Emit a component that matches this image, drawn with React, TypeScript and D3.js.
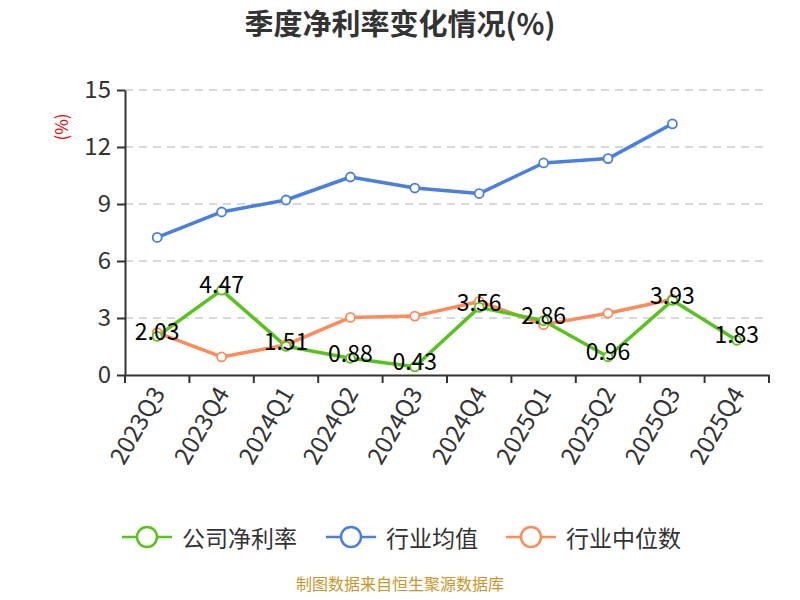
import React, { useEffect, useRef } from "react";
import * as d3 from "d3";

const quarters = ["2023Q3", "2023Q4", "2024Q1", "2024Q2", "2024Q3", "2024Q4", "2025Q1", "2025Q2", "2025Q3", "2025Q4"];
const companyRate = [2.03, 4.47, 1.51, 0.88, 0.43, 3.56, 2.86, 0.96, 3.93, 1.83];
const industryAvg: (number | null)[] = [7.24, 8.58, 9.21, 10.42, 9.84, 9.55, 11.16, 11.39, 13.22, null];
const industryMedian: (number | null)[] = [2.23, 0.95, 1.58, 3.03, 3.1, 3.87, 2.65, 3.25, 3.99, null];
const yTicks = [0, 3, 6, 9, 12, 15];
const seriesNames = ["公司净利率", "行业均值", "行业中位数"];

const FONT = "'Noto Sans CJK SC', 'Noto Sans', sans-serif";

const App: React.FC = () => {
  const svgRef = useRef<SVGSVGElement | null>(null);

  useEffect(() => {
    if (!svgRef.current) return;
    const width = 800;
    const height = 600;
    const marginLeft = 125;
    const marginRight = 31;
    const marginTop = 90;
    const bottomY = 375;

    const svg = d3.select(svgRef.current).attr("width", width).attr("height", height);
    svg.selectAll("*").remove();

    const x = d3.scaleBand().domain(quarters).range([marginLeft, width - marginRight]);
    const y = d3.scaleLinear().domain([0, 15]).range([bottomY, marginTop]);
    const cx = (q: string) => (x(q) ?? 0) + x.bandwidth() / 2;

    // title
    svg
      .append("text")
      .attr("x", 400)
      .attr("y", 35)
      .attr("text-anchor", "middle")
      .attr("font-family", FONT)
      .attr("font-size", 29)
      .attr("font-weight", "bold")
      .attr("fill", "#333")
      .text("季度净利率变化情况(%)");

    // unit label
    svg
      .append("text")
      .attr("transform", "translate(68,127) rotate(-90)")
      .attr("text-anchor", "middle")
      .attr("font-family", FONT)
      .attr("font-size", 17)
      .attr("fill", "#e00")
      .text("(%)");

    // grid
    svg
      .append("g")
      .selectAll("line")
      .data(yTicks.filter((t) => t > 0))
      .join("line")
      .attr("x1", marginLeft)
      .attr("x2", width - marginRight)
      .attr("y1", (d) => y(d))
      .attr("y2", (d) => y(d))
      .attr("stroke", "#ccc")
      .attr("stroke-width", 1.5)
      .attr("stroke-dasharray", "8,6");

    // y axis
    const gy = svg
      .append("g")
      .attr("transform", `translate(${marginLeft},0)`)
      .call(d3.axisLeft(y).tickValues(yTicks).tickSize(8).tickPadding(6).tickSizeOuter(0));
    gy.selectAll("path, line").attr("stroke", "#333").attr("stroke-width", 2);
    gy.selectAll("text").attr("font-family", FONT).attr("font-size", 24).attr("fill", "#333");

    // x axis
    const gx = svg
      .append("g")
      .attr("transform", `translate(0,${bottomY})`)
      .call(d3.axisBottom(x).tickSize(0).tickSizeOuter(0));
    gx.select(".domain").attr("stroke", "#333").attr("stroke-width", 2);
    gx.selectAll(".tick text").remove();
    gx.selectAll(".tick line").remove();
    const edges = quarters.map((q) => x(q) ?? 0).concat([width - marginRight]);
    gx.selectAll("line.edge")
      .data(edges)
      .join("line")
      .attr("class", "edge")
      .attr("x1", (d) => d)
      .attr("x2", (d) => d)
      .attr("y1", 0)
      .attr("y2", 8)
      .attr("stroke", "#333")
      .attr("stroke-width", 2);
    gx.selectAll("text.lbl")
      .data(quarters)
      .join("text")
      .attr("class", "lbl")
      .attr("transform", (d) => `translate(${cx(d) + 3},${15}) rotate(-60)`)
      .attr("text-anchor", "end")
      .attr("dominant-baseline", "middle")
      .attr("font-family", FONT)
      .attr("font-size", 24)
      .attr("fill", "#333")
      .text((d) => d);

    const colors = ["#5ac21f", "#4a7fe0", "#fd8b5b"];
    const allSeries = [companyRate as (number | null)[], industryAvg, industryMedian];
    const line = d3
      .line<number | null>()
      .defined((d) => d !== null)
      .x((_, i) => cx(quarters[i]))
      .y((d) => y(d as number));

    const drawOrder = [1, 2, 0];
    drawOrder.forEach((si) => {
      const data = allSeries[si];
      svg
        .append("path")
        .datum(data)
        .attr("fill", "none")
        .attr("stroke", colors[si])
        .attr("stroke-width", 3.5)
        .attr("stroke-linejoin", "round")
        .attr("d", line);
    });
    drawOrder.forEach((si) => {
      const data = allSeries[si];
      svg
        .append("g")
        .selectAll("circle")
        .data(data.map((v, i) => ({ v, q: quarters[i] })).filter((d) => d.v !== null))
        .join("circle")
        .attr("cx", (d) => cx(d.q))
        .attr("cy", (d) => y(d.v as number))
        .attr("r", 4.5)
        .attr("fill", "#fff")
        .attr("stroke", colors[si])
        .attr("stroke-width", 1.8);
    });

    // company labels
    svg
      .append("g")
      .selectAll("text")
      .data(companyRate)
      .join("text")
      .attr("x", (_, i) => cx(quarters[i]))
      .attr("y", (d) => y(d) - 3)
      .attr("text-anchor", "middle")
      .attr("dominant-baseline", "middle")
      .attr("font-family", FONT)
      .attr("font-size", 23)
      .attr("fill", "#000")
      .text((d) => d.toFixed(2));

    // legend
    const legendX = [122, 326, 506];
    const legendY = 537;
    seriesNames.forEach((name, i) => {
      const g = svg.append("g").attr("transform", `translate(${legendX[i]},${legendY})`);
      g.append("line").attr("x1", 0).attr("x2", 50).attr("y1", 0).attr("y2", 0).attr("stroke", colors[i]).attr("stroke-width", 2.5);
      g.append("circle").attr("cx", 25).attr("cy", 0).attr("r", 10).attr("fill", "#fff").attr("stroke", colors[i]).attr("stroke-width", 2.5);
      g.append("text")
        .attr("x", 60)
        .attr("y", 0)
        .attr("dominant-baseline", "central")
        .attr("font-family", FONT)
        .attr("font-size", 23)
        .attr("fill", "#333")
        .text(name);
    });

    // source
    svg
      .append("text")
      .attr("x", 400)
      .attr("y", 590)
      .attr("text-anchor", "middle")
      .attr("font-family", FONT)
      .attr("font-size", 16)
      .attr("fill", "#c9962b")
      .text("制图数据来自恒生聚源数据库");
  }, []);

  return <svg ref={svgRef} style={{ position: "absolute", left: 0, top: 0 }}></svg>;
};

export default App;
